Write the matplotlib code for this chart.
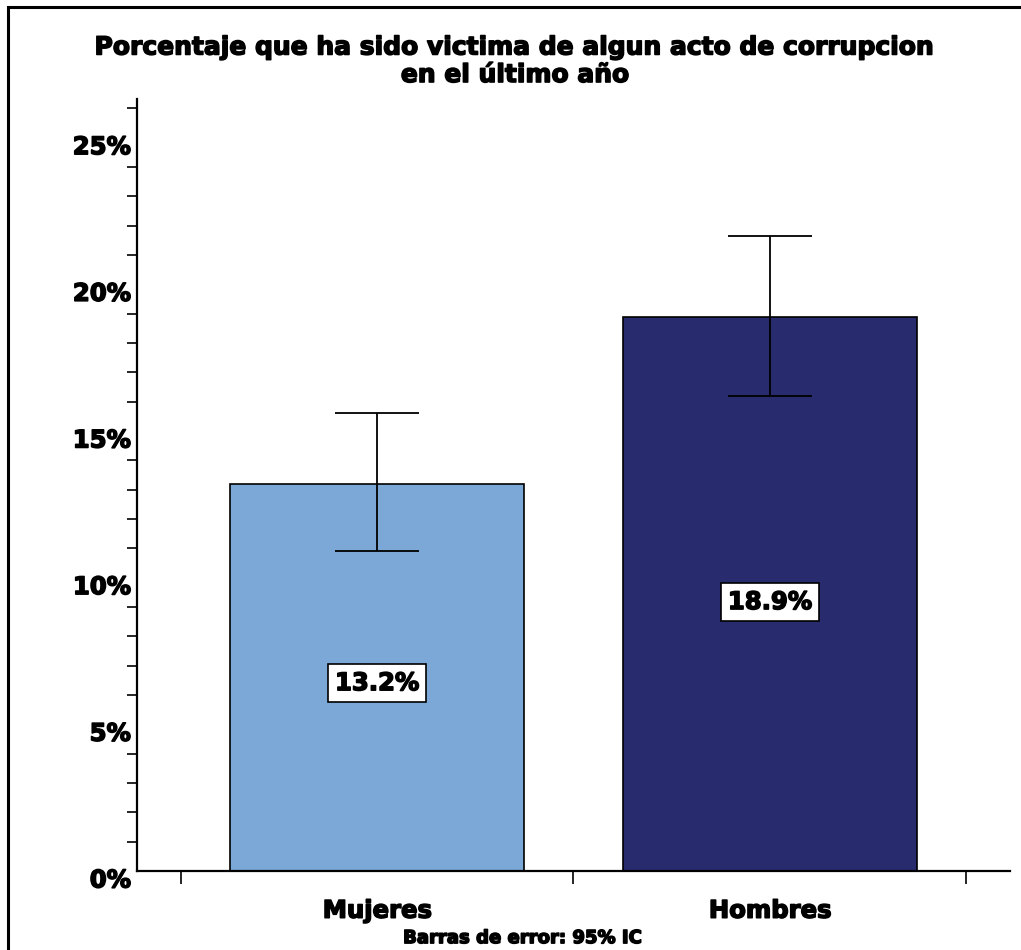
import numpy as np
import matplotlib
matplotlib.use("Agg")
import matplotlib.pyplot as plt
import matplotlib.transforms as mtransforms
import matplotlib.patheffects as pe
from matplotlib.ticker import MultipleLocator, FuncFormatter
from matplotlib.patches import Rectangle

categories = ["Mujeres", "Hombres"]
values = [13.2, 18.9]
ci_low = [10.9, 16.2]
ci_high = [15.6, 21.65]
colors = ["#7BA8D6", "#292B6F"]
labels = ["13.2%", "18.9%"]

plt.rcParams["font.family"] = ["DejaVu Sans"]
heavy = [pe.withStroke(linewidth=1.1, foreground="black")]

fig = plt.figure(figsize=(10.21, 9.5), dpi=100)
ax = fig.add_axes([0.1342, 0.0832, 0.855, 0.8126])

x = np.arange(len(categories))
yerr = [np.array(values) - np.array(ci_low), np.array(ci_high) - np.array(values)]
ax.bar(x, values, width=0.75, color=colors, edgecolor="black", linewidth=1.2, zorder=2)
ax.errorbar(x, values, yerr=yerr, fmt="none", ecolor="black", elinewidth=1.3,
            capsize=30, capthick=1.3, zorder=3)

for xi, v, lab in zip(x, values, labels):
    ax.text(xi, v * 0.485, lab, ha="center", va="center", fontsize=17.5, fontweight="bold",
            path_effects=heavy,
            bbox=dict(boxstyle="square,pad=0.3", fc="white", ec="black", lw=1.2), zorder=4)

ax.set_xlim(-0.611, 1.611)
ax.set_ylim(0, 26.32)

ax.yaxis.set_major_locator(MultipleLocator(5))
ax.yaxis.set_minor_locator(MultipleLocator(1))
ax.yaxis.set_major_formatter(FuncFormatter(lambda v, p: f"{v:.0f}%"))
ax.tick_params(axis="y", which="major", length=0, pad=4.5, labelsize=17.5)
ax.tick_params(axis="y", which="minor", length=7, width=1.2, direction="out")
for lbl in ax.get_yticklabels():
    lbl.set_fontweight("bold")
    lbl.set_path_effects(heavy)
    lbl.set_transform(lbl.get_transform() + mtransforms.ScaledTranslation(0, -7 / 100, fig.dpi_scale_trans))

ax.set_xticks(x)
ax.set_xticklabels(categories, fontsize=17.5, fontweight="bold")
for lbl in ax.get_xticklabels():
    lbl.set_path_effects(heavy)
ax.set_xticks([-0.5, 0.5, 1.5], minor=True)
ax.tick_params(axis="x", which="major", length=0, pad=20)
ax.tick_params(axis="x", which="minor", length=9, width=1.2, direction="out")

for side in ["top", "right"]:
    ax.spines[side].set_visible(False)
for side in ["left", "bottom"]:
    ax.spines[side].set_linewidth(1.6)

fig.text(0.505, 0.950, "Porcentaje que ha sido victima de algun acto de corrupcion",
         ha="center", va="center", fontsize=18, fontweight="bold", path_effects=heavy)
fig.text(0.505, 0.921, "en el último año", ha="center", va="center", fontsize=18,
         fontweight="bold", path_effects=heavy)
fig.text(0.511, 0.0125, "Barras de error: 95% IC", ha="center", va="center", fontsize=13,
         fontweight="bold", path_effects=heavy)

fig.patches.append(Rectangle((0.0075, -0.05), 1.1, 1.0426, transform=fig.transFigure,
                             fill=False, ec="black", lw=2.2))

fig.savefig("out.png", dpi=100)
